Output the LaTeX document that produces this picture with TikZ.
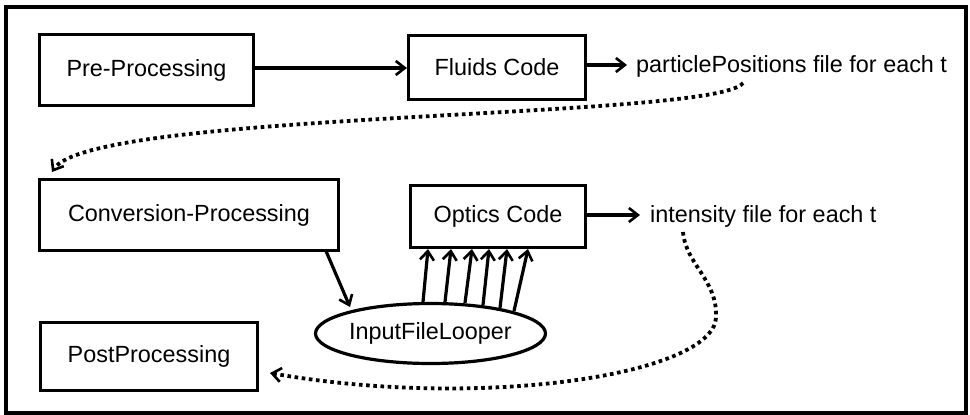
\documentclass[tikz,border=0pt]{standalone}
\usepackage{fontspec}
\setmainfont{Liberation Sans}
\usetikzlibrary{arrows.meta,calc,shapes.geometric}
\begin{document}
\begin{tikzpicture}[x=1pt,y=-1pt,
  every node/.style={font=\fontsize{23.4}{27}\selectfont},
  box/.style={draw,line width=3.2pt,rectangle,inner sep=0pt},
  loopnode/.style={draw,line width=3.2pt,ellipse,inner sep=0pt},
  plain/.style={inner sep=0pt},
  conn/.style={line width=3.2pt,-{Straight Barb[length=9pt,width=14pt,line width=2.6pt]}},
  dotconn/.style={line width=3.8pt,dash pattern=on 3.6pt off 3.6pt,-{Straight Barb[length=9pt,width=14pt,line width=2.6pt]}}
]
\useasboundingbox (0,0) rectangle (970,415);
\draw[line width=4pt] (6,7) rectangle (965.5,413);

\node[box,minimum width=214pt,minimum height=71pt] (pre) at (146.5,70) {Pre-Processing};
\node[box,minimum width=177pt,minimum height=64pt] (fluids) at (497,67.5) {Fluids Code};
\node[plain,anchor=base west] (pp) at (636,72) {particlePositions file for each t};
\node[box,minimum width=299pt,minimum height=71pt] (conv) at (189,215) {Conversion-Processing};
\node[box,minimum width=175pt,minimum height=62pt] (optics) at (498,216.5) {Optics Code};
\node[plain,anchor=base west] (inten) at (650,222) {intensity file for each t};
\node[loopnode,minimum width=222pt,minimum height=60pt] (loop) at (430.5,333.5) {InputFileLooper};
\node[box,minimum width=217pt,minimum height=68pt] (post) at (149,356.5) {PostProcessing};

\draw[conn] (pre.east |- 0,68) -- (fluids.west |- 0,68);
\draw[conn,shorten >=9pt] (fluids.east |- 0,65) -- (pp.west |- 0,65);
\draw[conn,shorten >=10pt] (optics.east |- 0,215) -- (inten.west |- 0,215);

\coordinate (cs) at (326,251);
\coordinate (ce) at (350,307);
\draw[conn] (cs) -- (ce);

\foreach \i/\bx/\by/\tx in {1/423/302/428,2/445/302/451,3/465/303/472,4/483/305/489,5/500/308/507,6/514/311/528}{
  \coordinate (b\i) at (\bx,\by);
  \coordinate (t\i) at (\tx,249);
  \draw[conn] (b\i) -- (t\i);
}

\coordinate (d1s) at (743,83);
\coordinate (d1e) at (52,172);
\draw[dotconn] (d1s) .. controls (715,120) and (90,110) .. (d1e);

\coordinate (d2s) at (683,232);
\coordinate (d2m) at (716,318);
\coordinate (d2e) at (270,373);
\draw[dotconn] (d2s) .. controls (686,265) and (718,280) .. (d2m) .. controls (712,375) and (480,410) .. (d2e);
\end{tikzpicture}
\end{document}
